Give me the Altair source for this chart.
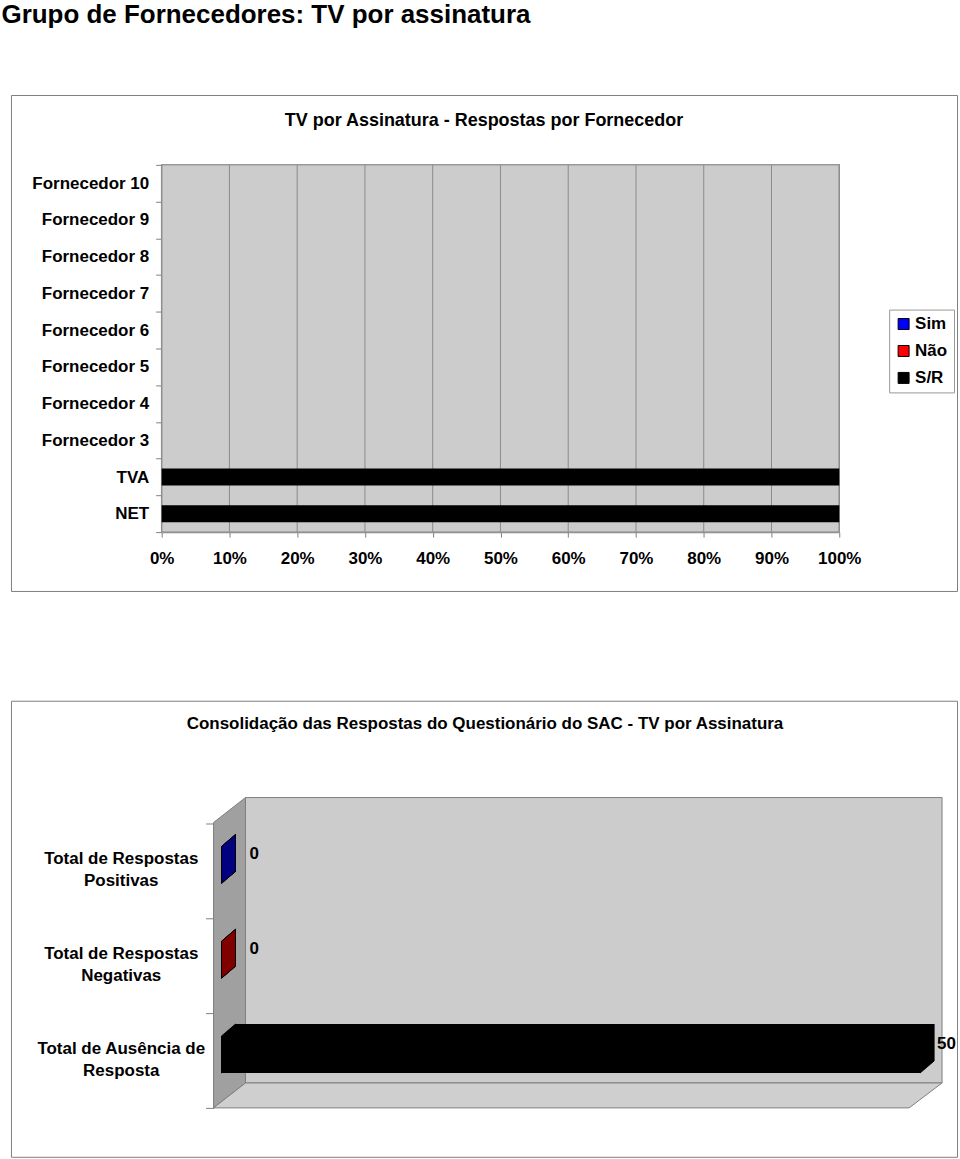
import altair as alt
import pandas as pd

# ---------------- data ----------------
main_title = "Grupo de Fornecedores: TV por assinatura"
title1 = "TV por Assinatura - Respostas por Fornecedor"
title2 = "Consolidação das Respostas do Questionário do SAC - TV por Assinatura"

fornecedores = ["Fornecedor 10", "Fornecedor 9", "Fornecedor 8", "Fornecedor 7",
                "Fornecedor 6", "Fornecedor 5", "Fornecedor 4", "Fornecedor 3",
                "TVA", "NET"]
respostas = ["Sim", "Não", "S/R"]
sim = [0, 0, 0, 0, 0, 0, 0, 0, 0, 0]
nao = [0, 0, 0, 0, 0, 0, 0, 0, 0, 0]
sr = [0, 0, 0, 0, 0, 0, 0, 0, 1.0, 1.0]
x_ticks = [0, 0.1, 0.2, 0.3, 0.4, 0.5, 0.6, 0.7, 0.8, 0.9, 1.0]

totais = ["Total de Respostas Positivas", "Total de Respostas Negativas",
          "Total de Ausência de Resposta"]
totais_valores = [0, 0, 50]

# ---------------- styles ----------------
FONT = "Liberation Sans"
FS = 17
cores1 = ["#0000FF", "#FF0000", "#000000"]
cores2 = ["#000080", "#800000", "#000000"]
GRAY_BG = "#CCCCCC"
GRAY_LINE = "#808080"

# ---------------- panel 1 ----------------
rows = []
for i, f in enumerate(fornecedores):
    for j, (r, vals) in enumerate(zip(respostas, [sim, nao, sr])):
        rows.append({"fornecedor": f, "resposta": r, "ordem": j, "pct": vals[i]})
df1 = pd.DataFrame(rows)

xs1 = alt.Scale(domain=[0, 1], range=[151, 830], nice=False)
ys1 = alt.Scale(domain=fornecedores, range=[70, 438], paddingInner=0, paddingOuter=0)

xax1 = alt.Axis(values=x_ticks, format=".0%", title=None, orient="bottom", offset=-59,
                grid=False, domainColor=GRAY_LINE, domainWidth=1.5, tickColor=GRAY_LINE,
                tickSize=5, labelFontSize=FS, labelFontWeight="bold", labelColor="black",
                labelPadding=13, labelFlush=False, labelFont=FONT)
yax1 = alt.Axis(title=None, orient="left", offset=-151, tickBand="extent", tickSize=6,
                tickColor=GRAY_LINE, domainColor=GRAY_LINE, domainWidth=1.5,
                labelFontSize=FS, labelFontWeight="bold", labelColor="black",
                labelPadding=7, grid=False, labelFont=FONT)

bg1 = alt.Chart(pd.DataFrame({"a": [0], "b": [1]})).mark_rect(
    fill=GRAY_BG, stroke="#999999", strokeWidth=1.5
).encode(
    x=alt.X("a:Q", scale=xs1, axis=xax1),
    x2="b:Q",
    y=alt.value(70), y2=alt.value(438),
)

grid1 = alt.Chart(pd.DataFrame({"t": x_ticks})).mark_rule(color="#8C8C8C", strokeWidth=1).encode(
    x=alt.X("t:Q", scale=xs1, axis=xax1),
    y=alt.value(70), y2=alt.value(438),
)

bars1 = alt.Chart(df1).mark_bar(size=17).encode(
    x=alt.X("pct:Q", scale=xs1, axis=xax1, stack="zero"),
    y=alt.Y("fornecedor:N", scale=ys1, axis=yax1),
    color=alt.Color("resposta:N", scale=alt.Scale(domain=respostas, range=cores1),
                    legend=alt.Legend(title=None, orient="none", legendX=880, legendY=215,
                                      symbolType="square", symbolSize=121,
                                      symbolStrokeColor="black", symbolStrokeWidth=1,
                                      labelFontSize=FS, labelFontWeight="bold",
                                      labelColor="black", rowPadding=9, padding=6,
                                      strokeColor="#999999", fillColor="white",
                                      labelOffset=3, labelFont=FONT)),
    order=alt.Order("ordem:Q"),
)

t1 = alt.Chart(pd.DataFrame({"titulo": [title1]})).mark_text(
    fontSize=18, fontWeight="bold", align="center", baseline="middle", color="black", font=FONT
).encode(text="titulo:N", x=alt.value(474), y=alt.value(26))

panel1 = alt.layer(bg1, grid1, bars1, t1).properties(width=948, height=497)

# ---------------- panel 2 ----------------
df2 = pd.DataFrame({"total": totais, "valor": totais_valores})

xs2 = alt.Scale(domain=[0, 50], range=[211, 911], nice=False)
ys2 = alt.Scale(domain=totais, range=[123, 408], paddingInner=0, paddingOuter=0)
cs2 = alt.Scale(domain=totais, range=cores2)

yax2 = alt.Axis(title=None, orient="left", offset=-203, tickBand="extent", tickSize=8,
                tickColor=GRAY_LINE, domainColor=GRAY_LINE, labelFontSize=FS,
                labelFontWeight="bold", labelColor="black", labelAlign="center",
                labelBaseline="middle", labelPadding=85, labelLineHeight=22, labelLimit=300,
                labelOffset=-12, labelFont=FONT,
                labelExpr="[substring(datum.label, 0, lastindexof(datum.label, ' ')), "
                          "substring(datum.label, lastindexof(datum.label, ' ') + 1)]")

dummy = pd.DataFrame({"k": [0]})
back_wall = alt.Chart(dummy).mark_rect(fill=GRAY_BG, stroke=GRAY_LINE, strokeWidth=1).encode(
    x=alt.value(235), x2=alt.value(933), y=alt.value(97), y2=alt.value(383))
side_path = "M -0.1029 -0.8392 L 0.1029 -1 L 0.1029 0.8392 L -0.1029 1 Z"
side_wall = alt.Chart(dummy).mark_point(
    shape=side_path, size=311 ** 2, filled=True, fill="#A0A0A0", stroke=GRAY_LINE,
    strokeWidth=1, opacity=1
).encode(x=alt.value(219), y=alt.value(252.5))
floor_path = "M -1 0.0342 L -0.9123 -0.0342 L 1 -0.0342 L 0.9096 0.0342 Z"
floor = alt.Chart(dummy).mark_point(
    shape=floor_path, size=730 ** 2, filled=True, fill="#CFCFCF", stroke=GRAY_LINE,
    strokeWidth=1, opacity=1
).encode(x=alt.value(568), y=alt.value(395.5))

base2 = alt.Chart(df2)
enc_y2 = alt.Y("total:N", scale=ys2, axis=yax2)
enc_c2 = alt.Color("total:N", scale=cs2, legend=None)

back_rect = base2.mark_bar(size=37, xOffset=14, x2Offset=14, yOffset=-18).encode(
    x=alt.X("valor:Q", scale=xs2, axis=None), y=enc_y2, color=enc_c2)
front_rect = base2.mark_bar(size=37, yOffset=-6).encode(
    x=alt.X("valor:Q", scale=xs2, axis=None), y=enc_y2, color=enc_c2)
face_path = "M -0.2857 -0.5102 L 0.2857 -1 L 0.2857 0.5102 L -0.2857 1 Z"
left_face = base2.mark_point(shape=face_path, size=49 ** 2, filled=True, opacity=1,
                             stroke="black", strokeWidth=1, xOffset=7, yOffset=-12).encode(
    x=alt.X(datum=0, scale=xs2, axis=None), y=enc_y2, fill=enc_c2)
right_face = base2.mark_point(shape=face_path, size=49 ** 2, filled=True, opacity=1,
                              stroke="black", strokeWidth=1, xOffset=7, yOffset=-12).encode(
    x=alt.X("valor:Q", scale=xs2, axis=None), y=enc_y2, fill=enc_c2)

lab_zero = base2.transform_filter("datum.valor == 0").mark_text(
    align="left", baseline="middle", dx=28, dy=-17, fontSize=FS, fontWeight="bold",
    color="black", font=FONT
).encode(x=alt.X("valor:Q", scale=xs2, axis=None), y=enc_y2, text="valor:Q")
lab_pos = base2.transform_filter("datum.valor > 0").mark_text(
    align="left", baseline="middle", dx=17, dy=-17, fontSize=FS, fontWeight="bold",
    color="black", font=FONT
).encode(x=alt.X("valor:Q", scale=xs2, axis=None), y=enc_y2, text="valor:Q")

t2 = alt.Chart(pd.DataFrame({"titulo": [title2]})).mark_text(
    fontSize=FS, fontWeight="bold", align="center", baseline="middle", color="black", font=FONT
).encode(text="titulo:N", x=alt.value(475), y=alt.value(23))

panel2 = alt.layer(back_wall, side_wall, floor, back_rect, front_rect, left_face,
                   right_face, lab_zero, lab_pos, t2).properties(width=948, height=457)

# ---------------- assemble ----------------
chart = alt.vconcat(panel1, panel2, spacing=99).properties(
    title=alt.TitleParams(main_title, anchor="start", fontSize=26, fontWeight="bold",
                          dx=-9, offset=37, color="black", font=FONT,
                          baseline="alphabetic"),
    padding={"left": 1, "top": 0, "right": 2, "bottom": 2},
).resolve_scale(
    x="independent", y="independent", color="independent", fill="independent"
).resolve_legend(color="independent", fill="independent").configure(
    font=FONT
).configure_view(stroke=GRAY_LINE, strokeWidth=1)

chart.save("out.html", embed_options={"renderer": "svg", "actions": False})
